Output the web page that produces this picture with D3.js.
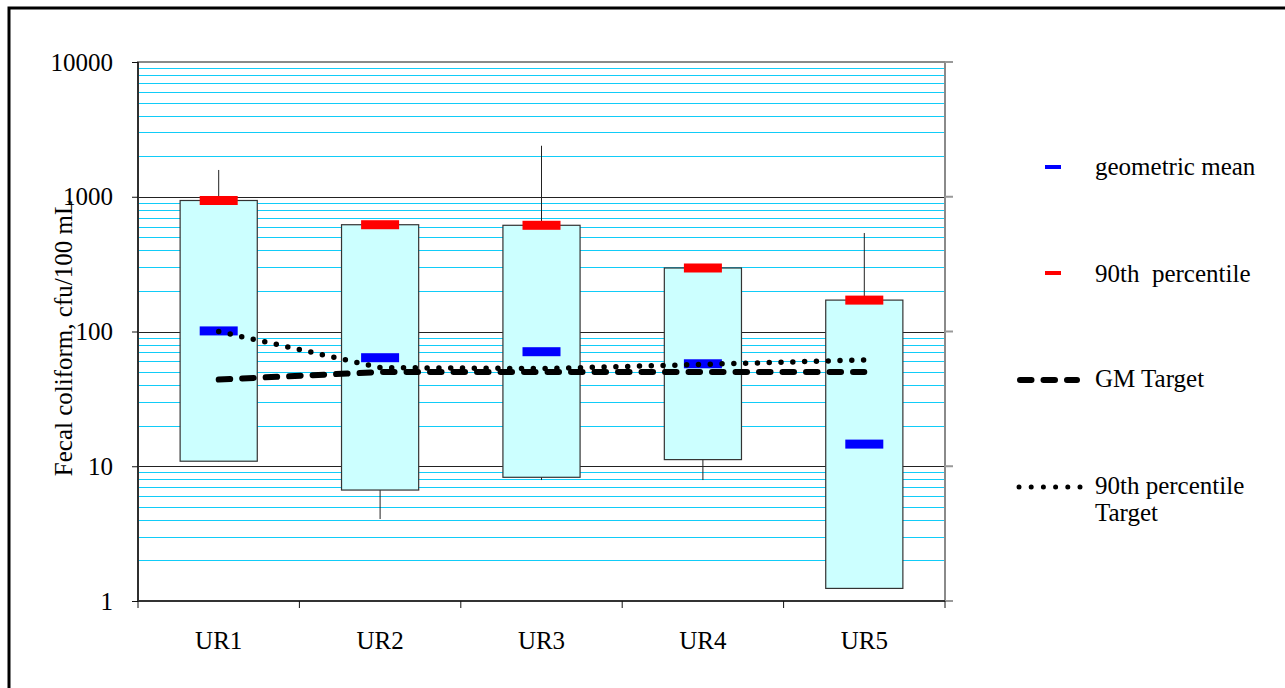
<!DOCTYPE html>
<html>
<head>
<meta charset="utf-8">
<script src="https://cdn.jsdelivr.net/npm/d3@7/dist/d3.min.js"></script>
<style>
  html, body { margin: 0; padding: 0; background: #fff; }
  svg { display: block; }
  svg text { font-family: "Liberation Serif", "Times New Roman", serif; fill: #000; }
</style>
</head>
<body>
<svg id="chart" width="1285" height="688"></svg>
<script>
// Sampling stations
const stations = ["UR1", "UR2", "UR3", "UR4", "UR5"];

// Fecal coliform statistics per station (cfu/100 mL)
const maxValue   = [1580, 620, 2390, 296, 538];
const p90        = [938, 620, 614, 296, 171];
const p10        = [10.9, 6.66, 8.28, 11.2, 1.24];
const minValue   = [10.9, 4.06, 7.9, 7.9, 1.24];
const geoMean    = [101, 63.9, 70.8, 57.6, 14.6];

// Target curves
const gmTarget   = [44, 50, 50, 50, 50];
const p90Target  = [100, 54, 53, 57, 61.5];

// Axis ticks
const yTicks = [1, 10, 100, 1000, 10000];

const serif = "Liberation Serif, Times New Roman, serif";
const svg = d3.select("#chart");
const plotLeft = 138, plotRight = 945, plotTop = 62, plotBottom = 601;

const x = d3.scaleBand().domain(stations).range([plotLeft, plotRight]).padding(0);
const y = d3.scaleLog().domain([1, 10000]).range([plotBottom, plotTop]);
const cx = d => x(d) + x.bandwidth() / 2;

// outer frame
svg.append("rect")
  .attr("x", 9).attr("y", 8).attr("width", 1300).attr("height", 720)
  .attr("fill", "none").attr("stroke", "#000").attr("stroke-width", 3);

// minor gridlines 2..9 within each decade
const minor = [];
for (let e = 0; e < 4; e++) for (let k = 2; k <= 9; k++) minor.push(k * Math.pow(10, e));
svg.append("g").selectAll("line").data(minor).join("line")
  .attr("x1", plotLeft).attr("x2", plotRight)
  .attr("y1", d => Math.round(y(d)) + 0.5).attr("y2", d => Math.round(y(d)) + 0.5)
  .attr("stroke", "#11CCF8").attr("stroke-width", 1);

// major gridlines
svg.append("g").selectAll("line").data(yTicks.slice(1, -1)).join("line")
  .attr("x1", plotLeft).attr("x2", plotRight)
  .attr("y1", d => Math.round(y(d)) + 0.5).attr("y2", d => Math.round(y(d)) + 0.5)
  .attr("stroke", "#222").attr("stroke-width", 1);

// plot area border
svg.append("rect")
  .attr("x", plotLeft).attr("y", plotTop).attr("width", plotRight - plotLeft).attr("height", plotBottom - plotTop)
  .attr("fill", "none").attr("stroke", "#8a8a8a").attr("stroke-width", 2);

// right side tick stubs
svg.append("g").selectAll("line").data(yTicks).join("line")
  .attr("x1", plotRight).attr("x2", plotRight + 8)
  .attr("y1", d => y(d)).attr("y2", d => y(d))
  .attr("stroke", "#999").attr("stroke-width", 2);

const boxW = x.bandwidth() * 0.478;

// whiskers (min to max)
svg.append("g").selectAll("line").data(stations).join("line")
  .attr("x1", d => cx(d)).attr("x2", d => cx(d))
  .attr("y1", (d, i) => y(maxValue[i])).attr("y2", (d, i) => y(minValue[i]))
  .attr("stroke", "#222").attr("stroke-width", 1);

// boxes (10th to 90th percentile)
svg.append("g").selectAll("rect").data(stations).join("rect")
  .attr("x", d => cx(d) - boxW / 2)
  .attr("y", (d, i) => y(p90[i]))
  .attr("width", boxW)
  .attr("height", (d, i) => y(p10[i]) - y(p90[i]))
  .attr("fill", "#CCFFFF").attr("stroke", "#333").attr("stroke-width", 1.2);

// axis lines
svg.append("line").attr("x1", plotLeft).attr("x2", plotLeft).attr("y1", plotTop).attr("y2", plotBottom)
  .attr("stroke", "#111").attr("stroke-width", 1.5);
svg.append("line").attr("x1", plotLeft).attr("x2", plotRight).attr("y1", plotBottom).attr("y2", plotBottom)
  .attr("stroke", "#333").attr("stroke-width", 2);

// y axis
const yAxis = d3.axisLeft(y).tickValues(yTicks).tickFormat(d3.format("d")).tickSize(6).tickPadding(19);
const gy = svg.append("g").attr("transform", `translate(${plotLeft},0)`).call(yAxis)
  .attr("font-family", serif).attr("font-size", 25);
gy.select(".domain").remove();
gy.selectAll("line").attr("stroke", "#111");
gy.selectAll("text").attr("fill", "#000");

// x axis ticks at category boundaries
const bounds = stations.map(d => x(d)).concat([plotRight]);
svg.append("g").selectAll("line").data(bounds).join("line")
  .attr("x1", d => d).attr("x2", d => d).attr("y1", plotBottom).attr("y2", plotBottom + 7)
  .attr("stroke", "#111").attr("stroke-width", 1);
svg.append("g").attr("font-family", serif).attr("font-size", 25)
  .selectAll("text").data(stations).join("text")
  .attr("x", d => cx(d)).attr("y", 649)
  .attr("text-anchor", "middle").text(d => d);

// y axis title
svg.append("text")
  .attr("transform", "translate(72,338) rotate(-90)")
  .attr("text-anchor", "middle").attr("font-family", serif).attr("font-size", 25)
  .text("Fecal coliform, cfu/100 mL");

// markers
const markW = 38, markH = 9;
svg.append("g").selectAll("rect").data(stations).join("rect")
  .attr("x", d => cx(d) - markW / 2).attr("y", (d, i) => y(p90[i]) - markH / 2)
  .attr("width", markW).attr("height", markH).attr("fill", "#FF0000");
svg.append("g").selectAll("rect").data(stations).join("rect")
  .attr("x", d => cx(d) - markW / 2).attr("y", (d, i) => y(geoMean[i]) - markH / 2)
  .attr("width", markW).attr("height", markH).attr("fill", "#0000FF");

// target lines
const line = vals => d3.line().x((d, i) => cx(stations[i])).y(d => y(d))(vals);
svg.append("path").attr("d", line(gmTarget))
  .attr("fill", "none").attr("stroke", "#000").attr("stroke-width", 6)
  .attr("stroke-linecap", "round").attr("stroke-dasharray", "11.5 12");
svg.append("path").attr("d", line(p90Target))
  .attr("fill", "none").attr("stroke", "#000").attr("stroke-width", 5.5)
  .attr("stroke-linecap", "round").attr("stroke-dasharray", "0 11.8");

// legend
const lg = svg.append("g").attr("font-family", serif).attr("font-size", 25);
lg.append("rect").attr("x", 1045).attr("y", 165).attr("width", 16).attr("height", 4).attr("fill", "#0000FF");
lg.append("text").attr("x", 1095).attr("y", 175).text("geometric mean");
lg.append("rect").attr("x", 1045).attr("y", 271).attr("width", 16).attr("height", 4).attr("fill", "#FF0000");
lg.append("text").attr("x", 1095).attr("y", 282)
  .style("white-space", "pre").text("90th  percentile");
lg.append("line").attr("x1", 1020).attr("x2", 1077).attr("y1", 380).attr("y2", 380)
  .attr("stroke", "#000").attr("stroke-width", 6).attr("stroke-linecap", "round")
  .attr("stroke-dasharray", "11.5 12");
lg.append("text").attr("x", 1095).attr("y", 387).text("GM Target");
lg.append("line").attr("x1", 1019).attr("x2", 1080).attr("y1", 487).attr("y2", 487)
  .attr("stroke", "#000").attr("stroke-width", 5).attr("stroke-linecap", "round")
  .attr("stroke-dasharray", "0 12.2");
lg.append("text").attr("x", 1095).attr("y", 494).text("90th percentile");
lg.append("text").attr("x", 1095).attr("y", 521).text("Target");
</script>
</body>
</html>
